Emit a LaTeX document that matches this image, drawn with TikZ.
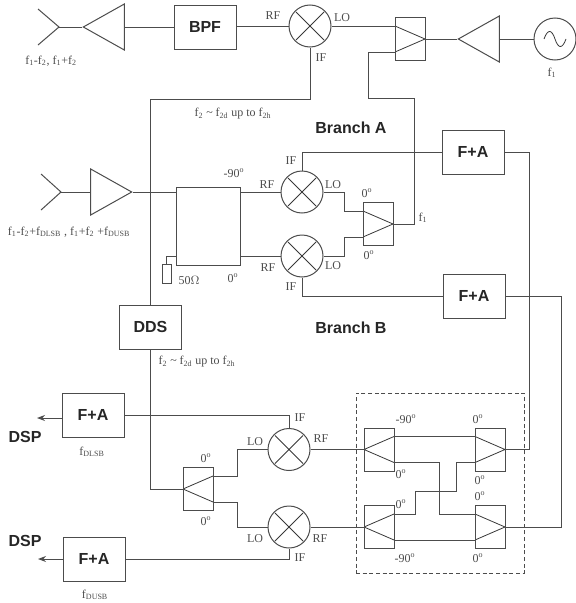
\documentclass[tikz,border=0pt]{standalone}
\usepackage{fontspec}
\setmainfont{Liberation Serif}
\setsansfont{Liberation Sans}
\usetikzlibrary{shapes.geometric,arrows.meta}
\def\dy{9.75pt}
\tikzset{
  wire/.style={draw=black!70, line width=0.75pt},
  blockbox/.style={wire, font=\sffamily\bfseries\fontsize{12}{12}\selectfont, text=black!85, minimum width=46.5pt, minimum height=33pt, inner sep=0pt},
  lbl/.style={font=\fontsize{9}{9}\selectfont, text=black!70, inner sep=0pt},
  head/.style={font=\sffamily\bfseries\fontsize{12}{12}\selectfont, text=black!85, inner sep=0pt},
  mixer/.style={wire, circle, minimum size=31.5pt, inner sep=0pt,
    path picture={\draw[black!78, line width=0.6pt, shift={(path picture bounding box.center)}] (-14,-14) -- (14,14) (-14,14) -- (14,-14);}},
  osc/.style={wire, circle, minimum size=31.5pt, inner sep=0pt,
    path picture={\draw[black!78, line width=0.6pt, shift={(path picture bounding box.center)}] (-11,0) .. controls (-7,-11) and (-3,-9) .. (0,0) .. controls (3,9) and (7,11) .. (11,0);}},
  amp/.style={wire, isosceles triangle, isosceles triangle stretches, inner sep=0pt, minimum width=34.5pt, minimum height=30.75pt},
  splitr/.style={wire, minimum width=22.5pt, minimum height=32.25pt, inner sep=0pt,
    path picture={\draw[black!78, line width=0.6pt, shift={(path picture bounding box.center)}] (-15,-13) -- (15,0) -- (-15,13);}},
  splitl/.style={wire, minimum width=22.5pt, minimum height=32.25pt, inner sep=0pt,
    path picture={\draw[black!78, line width=0.6pt, shift={(path picture bounding box.center)}] (15,-13) -- (-15,0) -- (15,13);}},
}
\begin{document}
\begin{tikzpicture}[x=0.75pt, y=-0.75pt]
\useasboundingbox (0,0) rectangle (575,603);
% top chain
\coordinate (ant1) at (59,27);
\node[amp, shape border rotate=180, anchor=apex] (amp1) at (82,27) {};
\node[blockbox] (bpf) at (205,27) {BPF};
\node[mixer] (mixt) at (310,26) {};
\node[splitr] (dtop) at (410,39) {};
\node[amp, shape border rotate=180, anchor=apex] (amp2) at (457,39) {};
\node[osc] (src) at (555,39) {};
% second chain
\coordinate (ant2) at (61,192);
\node[amp, anchor=apex] (amp3) at (133,192) {};
\node[wire, minimum width=48pt, minimum height=58.5pt, inner sep=0pt] (hyb) at (208,226) {};
\node[wire, minimum width=6.75pt, minimum height=14.25pt, inner sep=0pt] (load) at (166.5,273.5) {};
\node[mixer] (mixa) at (302,192) {};
\node[mixer] (mixb) at (302,256) {};
\node[splitr] (dmid) at (378,224) {};
\node[blockbox] (fa1) at (473,152) {F+A};
\node[blockbox] (fa2) at (474,296) {F+A};
\node[blockbox] (dds) at (150.5,327) {DDS};
% lower part
\node[blockbox] (fa3) at (93,415) {F+A};
\node[blockbox] (fa4) at (94,559) {F+A};
\coordinate (dsp1) at (37,418);
\coordinate (dsp2) at (38,559);
\node[splitl] (dlow) at (198,489) {};
\node[mixer] (mixc) at (289,449.5) {};
\node[mixer] (mixd) at (289,527) {};
\node[splitl] (dul) at (379,449.5) {};
\node[splitr] (dur) at (490,449.5) {};
\node[splitl] (dll) at (379,527) {};
\node[splitr] (dlr) at (490,527) {};
\node[wire, densely dashed, minimum width=126pt, minimum height=135pt, inner sep=0pt] (hybbox) at (440,483) {};
% connectors
\draw[wire] ([shift={(-21,-18)}]ant1) -- (ant1) -- ([shift={(-21,18)}]ant1);
\draw[wire] (ant1) -- (amp1.apex);
\draw[wire] (amp1.lower side) -- (bpf.west);
\draw[wire] (bpf.east |- mixt.west) -- (mixt.west);
\draw[wire] (mixt.east) -- ([yshift=\dy]dtop.west);
\draw[wire] (dtop.east) -- (amp2.apex);
\draw[wire] (amp2.lower side) -- (src.west);
\draw[wire] (mixt.south) -- ++(0,52) -| (dds.north);
\draw[wire] ([yshift=-\dy]dtop.west) -- ++(-26,0) -- ++(0,46) -- ++(46,0) |- (dmid.east);
\draw[wire] ([shift={(-20,-18)}]ant2) -- (ant2) -- ([shift={(-20,18)}]ant2);
\draw[wire] (ant2) -- (amp3.lower side);
\draw[wire] (amp3.apex) -- (amp3.apex -| hyb.west);
\draw[wire] (hyb.east |- mixa.west) -- (mixa.west);
\draw[wire] (hyb.east |- mixb.west) -- (mixb.west);
\draw[wire] (hyb.west |- mixb.west) -| (load.north);
\draw[wire] (mixa.east) -- ++(21,0) |- ([yshift=\dy]dmid.west);
\draw[wire] (mixb.east) -- ++(21,0) |- ([yshift=-\dy]dmid.west);
\draw[wire] (mixa.north) |- (fa1.west);
\draw[wire] (mixb.south) |- (fa2.west);
\draw[wire] (fa1.east) -- ++(25,0) |- (dur.east);
\draw[wire] (fa2.east) -- ++(56,0) |- (dlr.east);
\draw[wire] (dds.south) |- (dlow.west);
\draw[wire] ([yshift=\dy]dlow.east) -- ++(24,0) |- (mixc.west);
\draw[wire] ([yshift=-\dy]dlow.east) -- ++(24,0) |- (mixd.west);
\draw[wire] (fa3.east) -| (mixc.north);
\draw[wire] (fa4.east) -| (mixd.south);
\draw[wire, -{Stealth[length=6pt,width=4.5pt]}] (fa3.west |- dsp1) -- (dsp1);
\draw[wire, -{Stealth[length=6pt,width=4.5pt]}] (fa4.west) -- (dsp2);
\draw[wire] (mixc.east) -- (dul.west);
\draw[wire] (mixd.east) -- (dll.west);
\draw[wire] ([yshift=\dy]dul.east) -- ([yshift=\dy]dur.west);
\draw[wire] ([yshift=-\dy]dll.east) -- ([yshift=-\dy]dlr.west);
\draw[wire] ([yshift=-\dy]dul.east) -- ++(45,0) |- ([yshift=\dy]dlr.west);
\draw[wire] ([yshift=\dy]dll.east) -- ++(21,0) -- ++(0,-23) -- ++(41,0) |- ([yshift=-\dy]dur.west);
% labels
\node[lbl] (t1) at (51,61) {f\textsubscript{1}-f\textsubscript{2}, f\textsubscript{1}+f\textsubscript{2}};
\node[lbl] (t2) at (273,16) {RF};
\node[lbl] (t3) at (342,18) {LO};
\node[lbl] (t4) at (321,58) {IF};
\node[lbl] (t5) at (552,73) {f\textsubscript{1}};
\node[lbl] (t6) at (233,114) {f\textsubscript{2} {\textasciitilde} f\textsubscript{2d} up to f\textsubscript{2h}};
\node[head] (t7) at (351,128) {Branch A};
\node[head] (t8) at (351,328) {Branch B};
\node[lbl] (t9) at (69,232) {f\textsubscript{1}-f\textsubscript{2}+f\textsubscript{DLSB} , f\textsubscript{1}+f\textsubscript{2} +f\textsubscript{DUSB}};
\node[lbl] (t10) at (234,173) {-90\textsuperscript{o}};
\node[lbl] (t11) at (267,185) {RF};
\node[lbl] (t12) at (268,268) {RF};
\node[lbl] (t13) at (189,280) {50$\Omega$};
\node[lbl] (t14) at (233,278) {0\textsuperscript{o}};
\node[lbl] (t15) at (291,161) {IF};
\node[lbl] (t16) at (333,185) {LO};
\node[lbl] (t17) at (367,193) {0\textsuperscript{o}};
\node[lbl] (t18) at (423,218) {f\textsubscript{1}};
\node[lbl] (t19) at (369,255) {0\textsuperscript{o}};
\node[lbl] (t20) at (333,266) {LO};
\node[lbl] (t21) at (291,287) {IF};
\node[lbl] (t22) at (197,362) {f\textsubscript{2} {\textasciitilde} f\textsubscript{2d} up to f\textsubscript{2h}};
\node[head] (t23) at (25,437) {DSP};
\node[head] (t24) at (25,541) {DSP};
\node[lbl] (t25) at (92,452) {f\textsubscript{DLSB}};
\node[lbl] (t26) at (95,595) {f\textsubscript{DUSB}};
\node[lbl] (t27) at (300,418) {IF};
\node[lbl] (t28) at (255,442) {LO};
\node[lbl] (t29) at (321,439) {RF};
\node[lbl] (t30) at (206,458) {0\textsuperscript{o}};
\node[lbl] (t31) at (206,521) {0\textsuperscript{o}};
\node[lbl] (t32) at (255,539) {LO};
\node[lbl] (t33) at (320,539) {RF};
\node[lbl] (t34) at (300,558) {IF};
\node[lbl] (t35) at (406,419) {-90\textsuperscript{o}};
\node[lbl] (t36) at (478,419) {0\textsuperscript{o}};
\node[lbl] (t37) at (401,474) {0\textsuperscript{o}};
\node[lbl] (t38) at (480,480) {0\textsuperscript{o}};
\node[lbl] (t39) at (480,496) {0\textsuperscript{o}};
\node[lbl] (t40) at (401,504) {0\textsuperscript{o}};
\node[lbl] (t41) at (405,558) {-90\textsuperscript{o}};
\node[lbl] (t42) at (478,558) {0\textsuperscript{o}};
\end{tikzpicture}
\end{document}
